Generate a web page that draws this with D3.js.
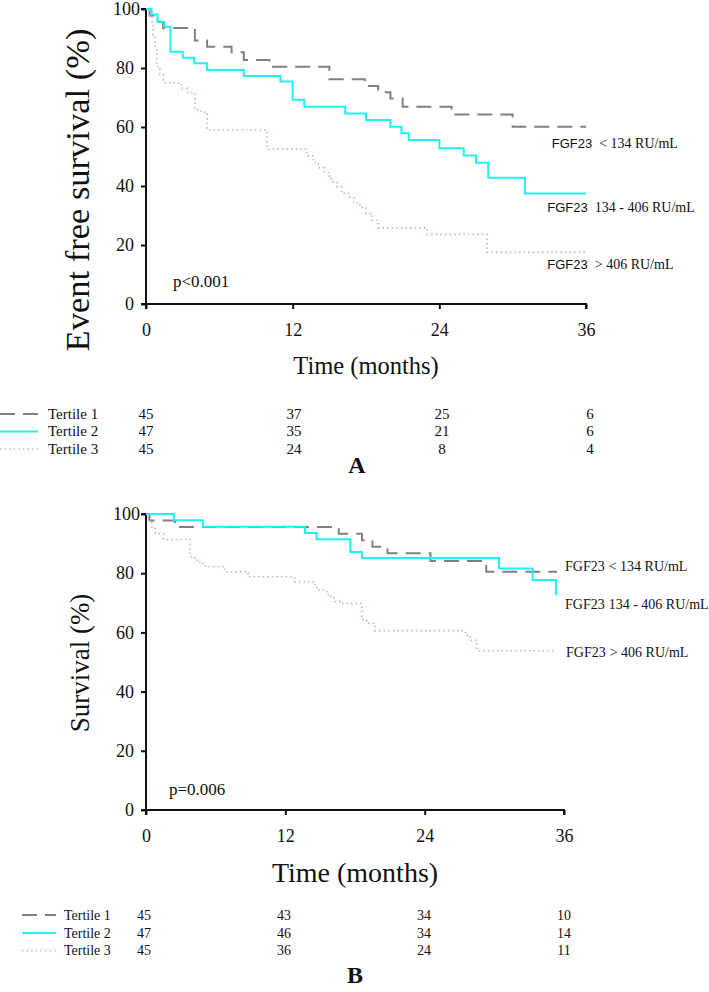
<!DOCTYPE html>
<html><head><meta charset="utf-8">
<script src="https://cdn.jsdelivr.net/npm/d3@7"></script>
<style>body{margin:0;background:#fff} svg{display:block}</style>
</head><body>
<svg id="c" width="709" height="992"></svg>
<script>
// ---------- data ----------
const ticksX = [0, 12, 24, 36];
const ticksY = [0, 20, 40, 60, 80, 100];
const groups = ["Tertile 1", "Tertile 2", "Tertile 3"];
const bandLabels = ["< 134 RU/mL", "134 - 406 RU/mL", "> 406 RU/mL"];

// Panel A: event free survival [month, %]
const efsT1 = [[0,100],[0.3,97.8],[1.0,95.6],[1.4,93.6],[4.0,89.3],[5.0,87.2],[7.0,85.3],[8.0,82.7],[10.1,80.4],[15.0,76.2],[17.9,73.9],[19.0,71.8],[20.0,69.7],[21.0,66.9],[25.0,64.2],[30.0,60.1],[36,60.1]];
const efsT2 = [[0,100],[0.46,98.1],[0.93,95.7],[1.5,94.0],[2.0,85.5],[3.0,83.5],[3.95,81.6],[5.0,79.3],[8.0,77.3],[11.0,75.4],[12.0,69.2],[12.95,66.9],[16.3,64.6],[18.0,62.4],[20.0,60.1],[20.9,57.9],[21.5,55.6],[24.0,52.8],[26.0,50.3],[27.0,47.9],[28.0,42.8],[31.0,37.5],[36,37.5]];
const efsT3 = [[0,100],[0.3,97.8],[0.5,95.6],[0.6,91.1],[0.75,86.7],[0.87,80.4],[1.15,77.8],[1.42,75.0],[2.9,73.1],[3.4,71.6],[4.0,65.8],[4.5,65.0],[5.0,59.0],[9.9,52.5],[13.15,50.2],[13.7,48.0],[14.1,46.2],[14.6,44.6],[15.0,42.5],[15.3,41.5],[15.6,39.8],[16.0,37.5],[16.7,36.2],[17.0,34.1],[17.5,32.8],[18.0,30.7],[18.5,28.4],[19.0,25.8],[23.0,23.6],[27.9,17.5],[36,17.5]];

// Panel B: overall survival [month, %]
const osT1 = [[0,100],[0.3,97.8],[2.5,95.6],[16.6,93.3],[18.6,91.1],[19.5,88.9],[20.8,86.7],[24.5,84.1],[29.3,80.5],[35.4,80.5]];
const osT2 = [[0,100],[2.4,97.9],[4.9,95.7],[13.7,93.6],[14.7,91.5],[17.6,87.2],[18.6,85.1],[30.4,81.6],[33.3,77.7],[35.3,72.6],[35.3,72.6]];
const osT3 = [[0,100],[0.2,97.8],[0.5,95.6],[0.8,93.3],[1.5,91.4],[3.8,85.6],[4.2,84.4],[4.65,83.3],[5.1,82.2],[6.8,80.5],[8.8,78.8],[12.8,77.1],[14.4,76.0],[14.7,74.3],[15.3,73.8],[15.7,72.1],[16.2,70.4],[16.7,69.8],[18.6,65.5],[18.7,64.0],[19.0,63.1],[19.7,60.6],[27.5,59.0],[27.9,57.3],[28.5,53.8],[35.1,53.8]];

const atRiskA = [[45,37,25,6],[47,35,21,6],[45,24,8,4]];
const atRiskB = [[45,43,34,10],[47,46,34,14],[45,36,24,11]];

// ---------- drawing ----------
const svg = d3.select("#c");
const SERIF = "'Liberation Serif','Times New Roman',Times,serif";
const SANS = "'Liberation Sans',Arial,sans-serif";
const styles = [
  {stroke:"#808080", width:2, dash:"15,8"},
  {stroke:"#1ff2f2", width:2, dash:null},
  {stroke:"#aeaef8", width:1.6, dash:"1.4,3.2"}
];

function applyStyle(sel, s){
  sel.attr("fill","none").attr("stroke",s.stroke).attr("stroke-width",s.width);
  if (s.dash) sel.attr("stroke-dasharray", s.dash);
}

function panel(o){
  const g = svg.append("g");
  const x = d3.scaleLinear().domain([0,36]).range(o.xr);
  const y = d3.scaleLinear().domain([0,100]).range(o.yr);

  // axes
  const ax = g.append("g").attr("transform",`translate(0,${o.yr[0]})`)
    .call(d3.axisBottom(x).tickValues(ticksX).tickSize(5).tickPadding(o.xPad));
  const ay = g.append("g").attr("transform",`translate(${o.xr[0]},0)`)
    .call(d3.axisLeft(y).tickValues(ticksY).tickSize(5).tickPadding(7));
  [ax, ay].forEach(a=>{
    a.attr("font-family",SERIF);
    a.select(".domain").attr("stroke","#111").attr("stroke-width",2);
    a.selectAll(".tick line").attr("stroke","#111").attr("stroke-width",2);
    a.selectAll(".tick text").attr("font-family",SERIF).attr("font-size",o.tickFs).attr("fill","#111");
  });
  ax.select(".domain").attr("d",`M${o.xr[0]},5V0H${o.xr[1]}V5`);
  ay.select(".domain").attr("d",`M-5,${o.yr[0]}H0V${o.yr[1]}H-5`);
  ay.selectAll(".tick text").filter(d=>d===100).attr("dx",6);

  // curves
  const line = d3.line().x(d=>x(d[0])).y(d=>y(d[1])).curve(d3.curveStepAfter);
  o.series.forEach((s,i)=>{
    g.append("path").datum(s).attr("d",line).call(applyStyle, styles[i]);
  });

  // axis titles
  g.append("text").attr("x",(o.xr[0]+o.xr[1])/2).attr("y",o.timeY)
    .attr("text-anchor","middle").attr("font-family",SERIF).attr("font-size",o.timeFs)
    .attr("fill","#111").text("Time (months)");
  g.append("text").attr("transform",`translate(${o.yTitleX},${o.yTitleY}) rotate(-90)`)
    .attr("text-anchor","middle").attr("font-family",SERIF).attr("font-size",o.yTitleFs)
    .attr("fill","#111").text(o.yTitle);

  // p value
  g.append("text").attr("x",o.pX).attr("y",o.pY).attr("font-family",SERIF)
    .attr("font-size",o.pFs).attr("fill","#111").text(o.pText);

  // band labels
  bandLabels.forEach((lab,i)=>{
    const t = g.append("text").attr("x",o.labX[i]).attr("y",o.labY[i])
      .attr("font-size",o.labFs).attr("fill","#111");
    t.append("tspan").attr("font-family",o.labFgfFont).attr("font-size",o.labFgfFs).text("FGF23");
    t.append("tspan").attr("font-family",SERIF).attr("dx",o.labGap).text(lab);
  });

  // number at risk
  const cx = d3.scaleLinear().domain([0,36]).range(o.riskRange);
  groups.forEach((gr,i)=>{
    const cy = o.rowY[i];
    const l = g.append("line").attr("x1",o.legX[0]).attr("x2",o.legX[1])
      .attr("y1",cy).attr("y2",cy);
    applyStyle(l, styles[i]);
    g.append("text").attr("x",o.legTextX).attr("y",cy).attr("dy","0.33em")
      .attr("font-family",SERIF).attr("font-size",o.riskFs).attr("fill","#111").text(gr);
    o.risk[i].forEach((n,j)=>{
      g.append("text").attr("x",cx(ticksX[j])).attr("y",cy).attr("dy","0.33em")
        .attr("text-anchor","middle").attr("font-family",SERIF).attr("font-size",o.riskFs)
        .attr("fill","#111").text(n);
    });
  });

  g.append("text").attr("x",o.letterX).attr("y",o.letterY)
    .attr("text-anchor","middle").attr("font-family",SERIF).attr("font-weight","bold")
    .attr("font-size",24).attr("fill","#111").text(o.letter);
}

panel({
  xr:[146,586], yr:[304,9], xPad:14, tickFs:18,
  series:[efsT1, efsT2, efsT3],
  timeY:374, timeFs:24.5,
  yTitle:"Event free survival (%)", yTitleX:89, yTitleY:190, yTitleFs:34.5,
  pText:"p<0.001", pX:173, pY:287, pFs:17,
  labX:[551.7,547.3,547.3], labY:[148,211.5,269], labFs:14, labFgfFont:SANS, labFgfFs:13, labGap:7,
  legX:[0,38], legTextX:48, rowY:[414,431.5,449], riskFs:15, risk:atRiskA, riskRange:[146,590],
  letter:"A", letterX:357, letterY:473
});

panel({
  xr:[146,564], yr:[810,514], xPad:14, tickFs:18,
  series:[osT1, osT2, osT3],
  timeY:882, timeFs:28,
  yTitle:"Survival (%)", yTitleX:89, yTitleY:663, yTitleFs:27,
  pText:"p=0.006", pX:169, pY:795, pFs:17,
  labX:[565,565,566], labY:[570.5,609,656.5], labFs:14, labFgfFont:SERIF, labFgfFs:14, labGap:4,
  legX:[22,56], legTextX:64, rowY:[915,933,950.5], riskFs:14, risk:atRiskB, riskRange:[144,564],
  letter:"B", letterX:355, letterY:983
});
</script>
</body></html>
